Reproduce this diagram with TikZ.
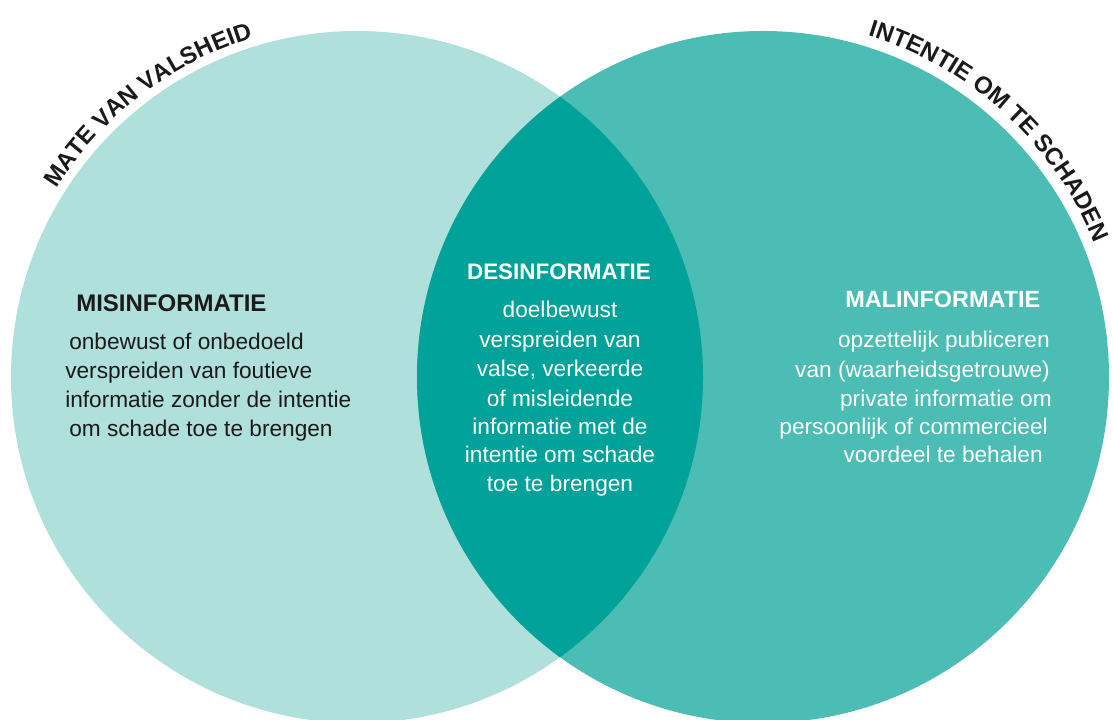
\documentclass[tikz,border=0pt]{standalone}
\usepackage{fontspec}
\setmainfont{Liberation Sans}
\usetikzlibrary{decorations.text}
\definecolor{lightc}{HTML}{AFE0DC}
\definecolor{midc}{HTML}{4CBDB4}
\definecolor{darkc}{HTML}{00A29A}
\definecolor{inkc}{HTML}{1A1A1A}
\begin{document}
\begin{tikzpicture}[x=0.75pt,y=0.75pt,
  body/.style={font=\fontsize{17}{20}\selectfont, inner sep=0pt},
  head/.style={font=\fontsize{#1}{20}\selectfont\bfseries, inner sep=0pt},
  arctext/.style={decorate,decoration={text along path,text align=center,text color=inkc,text={|\fontsize{18}{20}\selectfont\bfseries|#1}}}
]
\useasboundingbox (0,0) rectangle (1113,720);
\coordinate (cl) at (357,343);
\coordinate (cr) at (763,343);
\fill[lightc] (cl) circle[radius=259.5pt];
\fill[midc] (cr) circle[radius=259.5pt];
\begin{scope}
\clip (cl) circle[radius=259.5pt];
\fill[darkc] (cr) circle[radius=259.5pt];
\end{scope}
% curved labels
\path[arctext={MATE VAN VALSHEID}, shift={(357,343)}] (160:266pt) arc[start angle=160,end angle=95,radius=266pt];
\path[arctext={INTENTIE OM TE SCHADEN}, shift={(763,343)}] (85:268pt) arc[start angle=85,end angle=10,radius=268pt];
% left
\node[head=18, anchor=base west, text=inkc] (mishead) at (76,408) {MISINFORMATIE};
\node[body, anchor=base west, text=inkc] (mis1) at (69,370) {onbewust of onbedoeld};
\node[body, anchor=base west, text=inkc] (mis2) at (65,341) {verspreiden van foutieve};
\node[body, anchor=base west, text=inkc] (mis3) at (65,312) {informatie zonder de intentie};
\node[body, anchor=base west, text=inkc] (mis4) at (69,283) {om schade toe te brengen};
% center
\node[head=16.8, anchor=base, text=white] (deshead) at (559,440) {DESINFORMATIE};
\node[body, anchor=base, text=white] (des1) at (560,402) {doelbewust};
\node[body, anchor=base, text=white] (des2) at (560,372) {verspreiden van};
\node[body, anchor=base, text=white] (des3) at (560,343) {valse, verkeerde};
\node[body, anchor=base, text=white] (des4) at (560,313) {of misleidende};
\node[body, anchor=base, text=white] (des5) at (560,285) {informatie met de};
\node[body, anchor=base, text=white] (des6) at (560,257) {intentie om schade};
\node[body, anchor=base, text=white] (des7) at (560,228) {toe te brengen};
% right
\node[head=17.6, anchor=base west, text=white] (malhead) at (845,412) {MALINFORMATIE};
\node[body, anchor=base east, text=white] (mal1) at (1050,372) {opzettelijk publiceren};
\node[body, anchor=base east, text=white] (mal2) at (1050,342) {van (waarheidsgetrouwe)};
\node[body, anchor=base east, text=white] (mal3) at (1052,313) {private informatie om};
\node[body, anchor=base east, text=white] (mal4) at (1048,285) {persoonlijk of commercieel};
\node[body, anchor=base east, text=white] (mal5) at (1043,257) {voordeel te behalen};
\end{tikzpicture}
\end{document}
